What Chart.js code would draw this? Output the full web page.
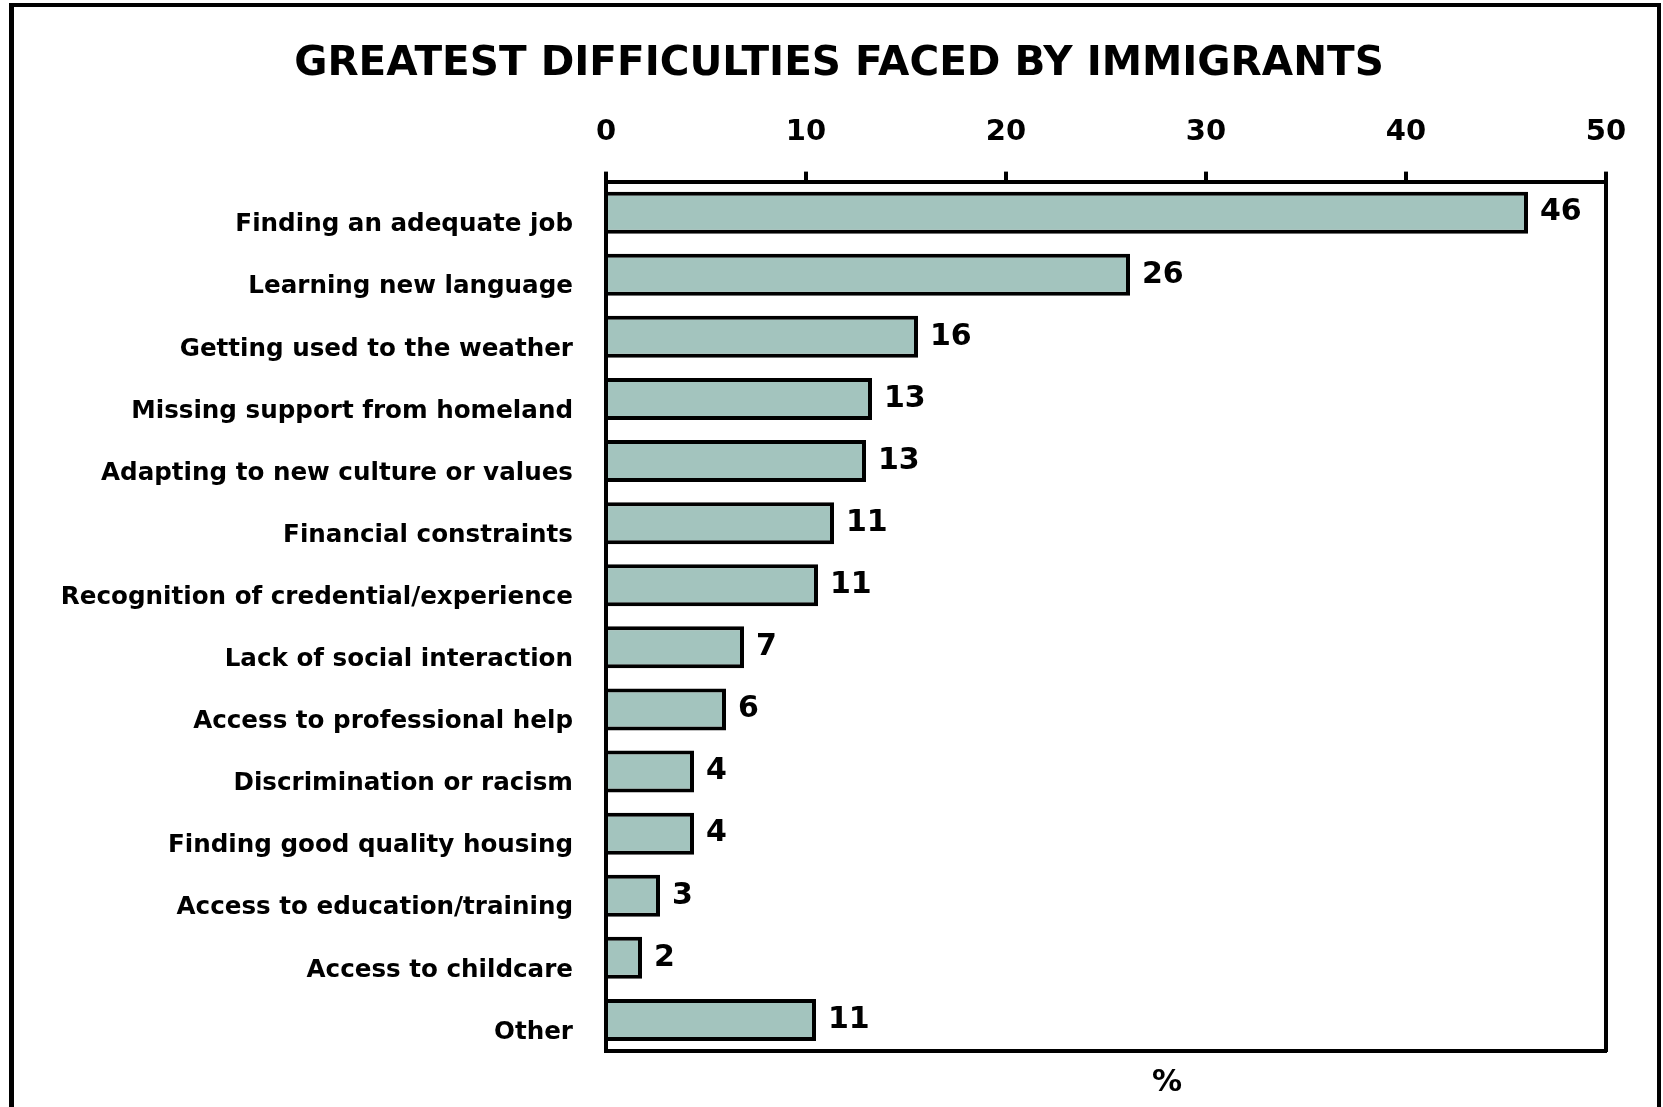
<!DOCTYPE html>
<html>
<head>
<meta charset="utf-8">
<script src="https://cdn.jsdelivr.net/npm/chart.js@4.4.1/dist/chart.umd.min.js"></script>
<style>
  html, body { margin: 0; padding: 0; background: #fff; overflow: hidden; }
  #frame {
    position: absolute; left: 9px; top: 3px;
    width: 1652px; height: 1200px;
    box-sizing: border-box;
    border: 4px solid #000; border-left-width: 5px;
  }
  #chart { position: absolute; left: 0; top: 0; }
</style>
</head>
<body>
<div id="frame"></div>
<canvas id="chart" width="1663" height="1107"></canvas>
<script>
  // data
  const categories = [
    'Finding an adequate job',
    'Learning new language',
    'Getting used to the weather',
    'Missing support from homeland',
    'Adapting to new culture or values',
    'Financial constraints',
    'Recognition of credential/experience',
    'Lack of social interaction',
    'Access to professional help',
    'Discrimination or racism',
    'Finding good quality housing',
    'Access to education/training',
    'Access to childcare',
    'Other'
  ];
  const percents = [46.1, 26.2, 15.6, 13.3, 13.0, 11.4, 10.6, 6.9, 6.0, 4.4, 4.4, 2.7, 1.8, 10.5];
  const xTicks = [0, 10, 20, 30, 40, 50];

  Chart.defaults.font.family = "'DejaVu Sans', sans-serif";
  Chart.defaults.font.weight = 'bold';
  Chart.defaults.color = '#000';

  // numbers at the end of the bars
  const valueLabels = {
    id: 'valueLabels',
    afterDatasetsDraw(chart) {
      const ctx = chart.ctx;
      const meta = chart.getDatasetMeta(0);
      ctx.save();
      ctx.font = "bold 30px 'DejaVu Sans'";
      ctx.fillStyle = '#000';
      ctx.textAlign = 'left';
      ctx.textBaseline = 'middle';
      meta.data.forEach((bar, i) => {
        ctx.fillText(String(Math.round(percents[i])), bar.x + 12, bar.y);
      });
      ctx.restore();
    }
  };

  // the "%" under the plot
  const unitLabel = {
    id: 'unitLabel',
    afterDraw(chart) {
      const a = chart.chartArea;
      const ctx = chart.ctx;
      ctx.save();
      ctx.font = "bold 30px 'DejaVu Sans'";
      ctx.fillStyle = '#000';
      ctx.textAlign = 'center';
      ctx.textBaseline = 'middle';
      ctx.fillText('%', a.left + (a.right - a.left) * 0.561, a.bottom + 32);
      ctx.restore();
    }
  };

  const ctx = document.getElementById('chart').getContext('2d');

  const chart = new Chart(ctx, {
    type: 'bar',
    data: {
      labels: categories,
      datasets: [{
        data: percents,
        backgroundColor: '#A3C4BE',
        borderColor: '#000',
        borderWidth: 4,
        borderSkipped: 'start',
        categoryPercentage: 1,
        barPercentage: 0.676
      }]
    },
    options: {
      indexAxis: 'y',
      responsive: false,
      animation: false,
      devicePixelRatio: 1,
      layout: { padding: { left: 15, right: 0, top: 0, bottom: 56 } },
      plugins: {
        legend: { display: false },
        tooltip: { enabled: false },
        title: {
          display: true,
          text: 'GREATEST DIFFICULTIES FACED BY IMMIGRANTS',
          color: '#000',
          font: { size: 40.5, weight: 'bold' },
          padding: { top: 40, bottom: 28 }
        }
      },
      scales: {
        x: {
          type: 'linear',
          position: 'top',
          min: 0,
          max: 50,
          afterBuildTicks: (scale) => {
            scale.ticks = xTicks.map(v => ({ value: v }));
          },
          afterFit: (scale) => {
            scale.height = 65;
            scale.paddingLeft = 0;
            scale.paddingRight = 0;
          },
          grid: {
            drawOnChartArea: false,
            drawTicks: true,
            tickLength: 10,
            lineWidth: 4,
            color: '#000'
          },
          border: { display: true, width: 4, color: '#000' },
          ticks: {
            font: { size: 29, weight: 'bold' },
            color: '#000',
            padding: 22,
            maxRotation: 0
          }
        },
        x2: {
          type: 'linear',
          position: 'bottom',
          display: true,
          min: 0,
          max: 50,
          afterFit: (scale) => { scale.height = 0; },
          grid: { display: false, drawTicks: false },
          ticks: { display: false },
          border: { display: true, width: 4, color: '#000' }
        },
        y: {
          type: 'category',
          position: 'left',
          afterFit: (scale) => {
            scale.width = 591;
            scale.paddingTop = 0;
            scale.paddingBottom = 0;
          },
          grid: { display: false, drawTicks: false },
          border: { display: true, width: 4, color: '#000' },
          ticks: {
            font: { size: 24.6, weight: 'bold' },
            color: '#000',
            padding: 33,
            align: 'start',
            autoSkip: false
          }
        },
        y2: {
          type: 'linear',
          position: 'right',
          display: true,
          afterFit: (scale) => { scale.width = 57; },
          grid: { display: false, drawTicks: false },
          ticks: { display: false },
          border: { display: true, width: 4, color: '#000' }
        }
      }
    },
    plugins: [valueLabels, unitLabel]
  });
</script>
</body>
</html>
